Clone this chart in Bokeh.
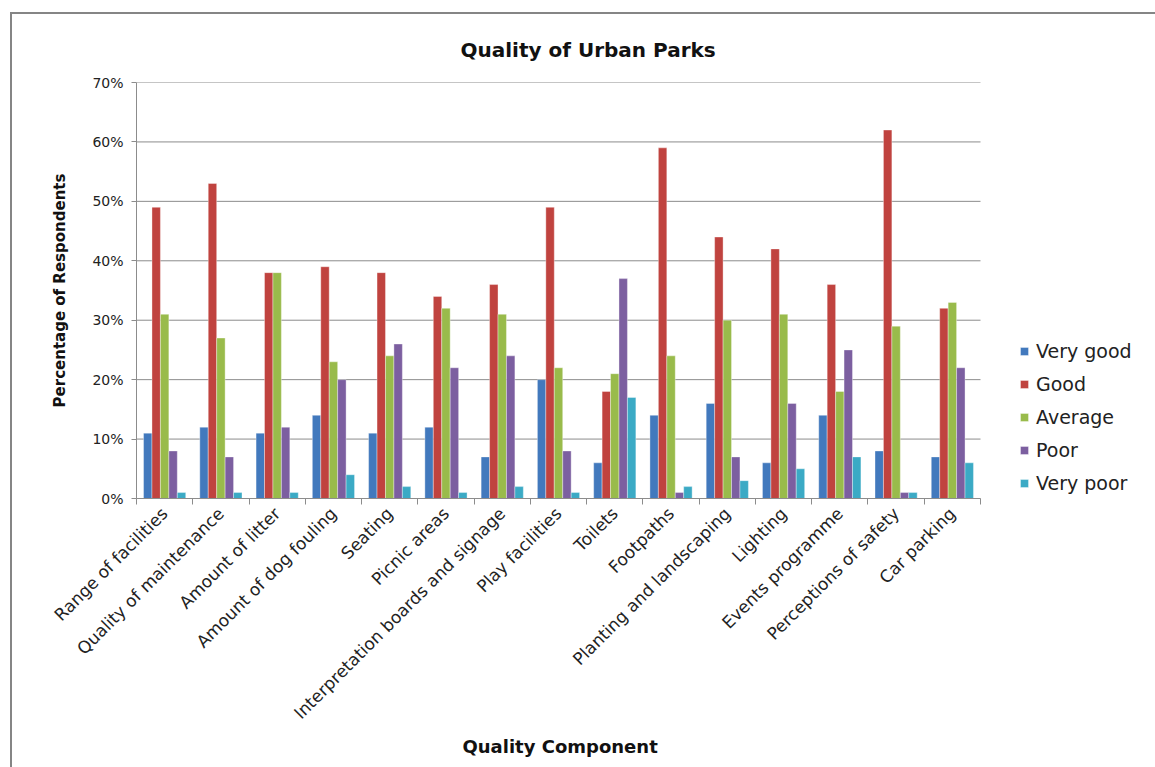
import math
from bokeh.plotting import figure
from bokeh.models import Range1d, FixedTicker, NumeralTickFormatter, Legend, LegendItem, Title
from bokeh.embed import file_html
from bokeh.resources import INLINE

categories = ["Range of facilities", "Quality of maintenance", "Amount of litter",
              "Amount of dog fouling", "Seating", "Picnic areas",
              "Interpretation boards and signage", "Play facilities", "Toilets",
              "Footpaths", "Planting and landscaping", "Lighting",
              "Events programme", "Perceptions of safety", "Car parking"]
very_good = [11, 12, 11, 14, 11, 12, 7, 20, 6, 14, 16, 6, 14, 8, 7]
good      = [49, 53, 38, 39, 38, 34, 36, 49, 18, 59, 44, 42, 36, 62, 32]
average   = [31, 27, 38, 23, 24, 32, 31, 22, 21, 24, 30, 31, 18, 29, 33]
poor      = [8, 7, 12, 20, 26, 22, 24, 8, 37, 1, 7, 16, 25, 1, 22]
very_poor = [1, 1, 1, 4, 2, 1, 2, 1, 17, 2, 3, 5, 7, 1, 6]
series_names = ["Very good", "Good", "Average", "Poor", "Very poor"]
series_values = [very_good, good, average, poor, very_poor]
colors = ["#4279BD", "#C0433F", "#99BB4B", "#7C5FA0", "#3BAAC5"]
y_ticks = [0, 0.1, 0.2, 0.3, 0.4, 0.5, 0.6, 0.7]

FONT = "DejaVu Sans"
GRAY = "#8c8c8c"
TXT = "#222222"
n = len(categories)
centers = [i + 0.5 for i in range(n)]
bw = 0.15

# plot area: categories occupy 844 px; the frame extends to the right edge to hold the legend
FIG_W, FIG_H = 1145, 755
LEFT, TOP, BOTTOM = 124, 68, 271
frame_w = FIG_W - LEFT
x_end = n * frame_w / 844.0

p = figure(width=FIG_W, height=FIG_H, x_range=Range1d(0, x_end), y_range=Range1d(0, 0.7),
           output_backend="svg", toolbar_location=None,
           min_border_left=LEFT, min_border_right=0, min_border_top=TOP, min_border_bottom=BOTTOM)
p.margin = (12, 0, 0, 10)
p.styles = {"border-left": "2px solid #858585", "border-top": "2px solid #858585"}
p.outline_line_color = None
p.background_fill_color = "white"
p.border_fill_color = "white"

# horizontal gridlines limited to category area
p.ygrid.grid_line_color = None
p.segment(x0=[0] * len(y_ticks), x1=[n] * len(y_ticks), y0=y_ticks, y1=y_ticks,
          line_color=GRAY, line_width=1)

items = []
for k, (name, vals, col) in enumerate(zip(series_names, series_values, colors)):
    xs = [c + (k - 2) * bw for c in centers]
    tops = [v / 100 for v in vals]
    r = p.vbar(x=xs, top=tops, width=bw, bottom=0, fill_color=col, line_color="white",
               line_width=0.6, line_alpha=0.6)
    items.append(LegendItem(label=name, renderers=[r]))

legend = Legend(items=items, location=(883, 4), orientation="vertical")
legend.border_line_color = None
legend.background_fill_alpha = 0
legend.padding = 0
legend.margin = 0
legend.spacing = 11
legend.glyph_width = 10
legend.glyph_height = 10
legend.label_height = 22
legend.label_standoff = 7
legend.label_text_font = FONT
legend.label_text_font_size = "19px"
legend.label_text_color = TXT
p.add_layout(legend)

# title
p.title.text = "Quality of Urban Parks"
p.title.align = "left"
p.title.offset = 324
p.title.standoff = 42
p.title.text_font = FONT
p.title.text_font_size = "20px"
p.title.text_font_style = "bold"
p.title.text_color = "#111111"

# y axis
p.yaxis.ticker = FixedTicker(ticks=y_ticks)
p.yaxis.formatter = NumeralTickFormatter(format="0%")
p.yaxis.axis_line_color = GRAY
p.yaxis.major_tick_line_color = GRAY
p.yaxis.major_tick_out = 5
p.yaxis.major_tick_in = 0
p.yaxis.minor_tick_line_color = None
p.yaxis.major_label_text_font = FONT
p.yaxis.major_label_text_font_size = "14px"
p.yaxis.major_label_text_color = TXT
p.yaxis.major_label_standoff = 8
p.yaxis.axis_label = "Percentage of Respondents"
p.yaxis.axis_label_text_font = FONT
p.yaxis.axis_label_text_font_size = "15px"
p.yaxis.axis_label_text_font_style = "bold"
p.yaxis.axis_label_text_color = "#111111"
p.yaxis.axis_label_standoff = 20

# x axis
p.xaxis.bounds = (0, n)
p.xaxis.ticker = FixedTicker(ticks=centers, minor_ticks=list(range(n + 1)))
p.xaxis.major_label_overrides = {c: lab for c, lab in zip(centers, categories)}
p.xaxis.major_label_orientation = math.pi / 4
p.xaxis.major_tick_line_color = None
p.xaxis.minor_tick_line_color = GRAY
p.xaxis.minor_tick_out = 6
p.xaxis.minor_tick_in = 0
p.xaxis.axis_line_color = GRAY
p.xaxis.major_label_text_font = FONT
p.xaxis.major_label_text_font_size = "17px"
p.xaxis.major_label_text_color = TXT
p.xaxis.major_label_standoff = 6
p.xgrid.grid_line_color = None

# x axis title, centred under the category area
xtitle = Title(text="Quality Component", align="left", offset=326, standoff=3,
               text_font=FONT, text_font_size="18px", text_font_style="bold",
               text_color="#111111")
p.add_layout(xtitle, "below")

open("out.html", "w").write(file_html(p, INLINE))
